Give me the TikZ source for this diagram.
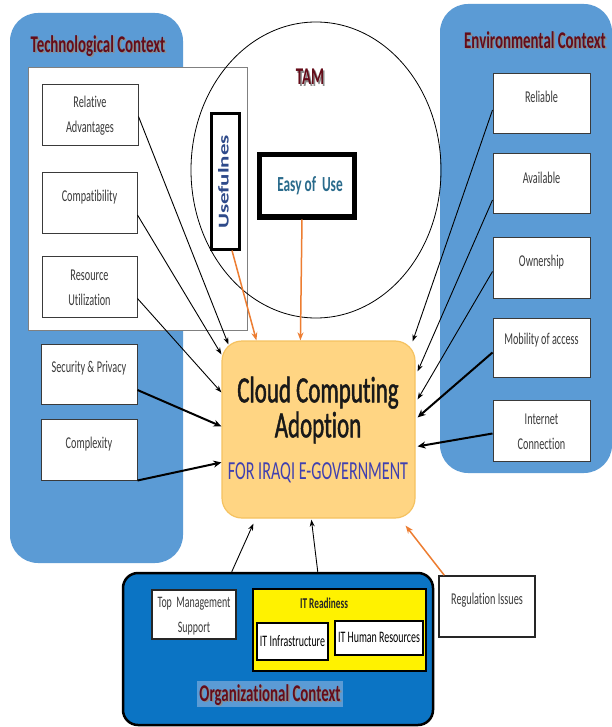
\documentclass[tikz,border=0pt]{standalone}
\usepackage{fontspec}
\setmainfont{Carlito}[FakeStretch=0.62,Ligatures=NoCommon]
\newfontfamily\plainf{Carlito}[Ligatures=NoCommon]
\newfontfamily\heavyf{Carlito}[FakeStretch=0.62,FakeBold=1.2,Ligatures=NoCommon]
\usetikzlibrary{calc,arrows.meta,shapes.geometric}
\definecolor{techblue}{HTML}{5B9BD5}
\definecolor{orgblue}{HTML}{0B74C4}
\definecolor{titlered}{HTML}{650C19}
\definecolor{mainfill}{HTML}{FFD583}
\definecolor{mainedge}{HTML}{F5C260}
\definecolor{arrorange}{HTML}{ED7D31}
\definecolor{boxtext}{HTML}{3A3A3A}
\definecolor{easyc}{HTML}{2A6B8C}
\definecolor{usec}{HTML}{2E4A8A}
\definecolor{govc}{HTML}{4040B0}
\definecolor{hlblue}{HTML}{5B9BD5}
\definecolor{shadowc}{HTML}{8C8C8C}
\begin{document}
\begin{tikzpicture}[x=1pt,y=-1pt,
  panel/.style={fill=techblue, rounded corners=28pt, inner sep=0pt},
  wbox/.style={draw=boxtext, fill=white, line width=1pt, inner sep=0pt},
  txt/.style={font=\fontsize{16.5}{25}\selectfont, text=boxtext, align=center, inner sep=0pt},
  otxt/.style={font=\fontsize{16}{25}\selectfont, text=black, align=center, inner sep=0pt},
  ttl/.style={font=\fontsize{24}{26}\selectfont\bfseries, text=titlered, inner sep=0pt},
  ttlsh/.style={ttl, text=shadowc},
  arr/.style={draw=black, line width=0.9pt, -{Stealth[length=7pt,width=5pt]}},
  tarr/.style={draw=black, line width=2pt, -{Stealth[length=8pt,width=7pt]}},
  oarr/.style={draw=arrorange, line width=1.5pt, -{Stealth[length=8pt,width=6pt]}}]
\useasboundingbox (0,0) rectangle (612,727);
\fill[white] (0,0) rectangle (612,727);

% Technological context panel
\node[panel, minimum width=173pt, minimum height=550pt] (tech) at (96.5,288) {};
\node[draw=gray, fill=white, line width=0.8pt, minimum width=219pt, minimum height=263pt, inner sep=0pt] (techin) at (137.5,198.5) {};
\node[ttlsh] (techttlsh) at (99.5,47.5) {Technological Context};
\node[ttl] (techttl) at (98,46) {Technological Context};

\node[wbox, minimum width=96pt, minimum height=61pt] (rel) at (90,115.5) {};
\node[txt] (reltxt) at (90,116) {Relative\\Advantages};
\node[wbox, minimum width=95pt, minimum height=60pt] (comp) at (89.5,203) {};
\node[txt] (comptxt) at (89.5,197) {Compatibility};
\node[wbox, minimum width=95pt, minimum height=61pt] (res) at (89.5,286.5) {};
\node[txt] (restxt) at (89.5,288) {Resource\\Utilization};
\node[wbox, minimum width=96pt, minimum height=60pt] (sec) at (89,374) {};
\node[txt] (sectxt) at (89,368) {Security \& Privacy};
\node[wbox, minimum width=96pt, minimum height=61pt] (cplx) at (89,449.5) {};
\node[txt] (cplxtxt) at (89,444) {Complexity};

% Environmental context panel
\node[panel, minimum width=172pt, minimum height=469pt] (env) at (526,238.5) {};
\node[ttlsh] (envttlsh) at (536.5,41.5) {Environmental Context};
\node[ttl] (envttl) at (535,40) {Environmental Context};
\node[wbox, minimum width=97pt, minimum height=60pt] (reli) at (541.5,104) {};
\node[txt] (relitxt) at (541.5,97) {Reliable};
\node[wbox, minimum width=97pt, minimum height=60pt] (avail) at (541.5,184) {};
\node[txt] (availtxt) at (541.5,178) {Available};
\node[wbox, minimum width=97pt, minimum height=61pt] (own) at (541.5,267.5) {};
\node[txt] (owntxt) at (541.5,262) {Ownership};
\node[wbox, minimum width=97pt, minimum height=59pt] (mob) at (541.5,347.5) {};
\node[txt] (mobtxt) at (541.5,340) {Mobility of access};
\node[wbox, minimum width=97pt, minimum height=61pt] (inet) at (541.5,430.5) {};
\node[txt] (inettxt) at (541.5,432) {Internet\\Connection};

% TAM
\node[draw=black, line width=0.8pt, ellipse, minimum width=250pt, minimum height=296pt, inner sep=0pt] (tam) at (316,170) {};
\node[ttlsh] (tamttlsh) at (311.5,78.5) {TAM};
\node[ttl] (tamttl) at (310,77) {TAM};
\node[draw=black, fill=white, line width=3pt, minimum width=28pt, minimum height=135pt, inner sep=0pt] (useful) at (225,181.5) {};
\node[inner sep=0pt, rotate=90, yscale=0.65, transform shape, font=\plainf\fontsize{23}{25}\selectfont\bfseries, text=usec] (usefultxt) at (223.5,182) {Usefulnes};
\node[draw=black, fill=white, line width=5pt, minimum width=95pt, minimum height=62pt, inner sep=0pt] (easy) at (307,186) {};
\node[font=\fontsize{21.5}{23}\selectfont\bfseries, text=easyc, inner sep=0pt] (easytxt) at (310,186) {Easy of~ Use};

% Main box
\node[fill=mainfill, draw=mainedge, line width=1.2pt, rounded corners=20pt, minimum width=193pt, minimum height=177pt, inner sep=0pt] (main) at (318.5,429.5) {};
\node[font=\heavyf\fontsize{37}{36}\selectfont, text=black!90, align=center, inner sep=0pt] (maintxt) at (318,410) {Cloud Computing\\[-1pt]Adoption};
\node[font=\fontsize{26}{28}\selectfont, text=govc, inner sep=0pt] (govtxt) at (318,473) {FOR IRAQI E-GOVERNMENT};

% Organizational context
\node[fill=orgblue, draw=black, line width=2.5pt, rounded corners=15pt, minimum width=310pt, minimum height=152pt, inner sep=0pt] (org) at (278,649) {};
\node[draw=black!85, fill=white, line width=2.5pt, minimum width=84pt, minimum height=49pt, inner sep=0pt] (tms) at (194,614.5) {};
\node[otxt, text=boxtext] (tmstxt) at (194,616) {Top~~Management\\Support};
\node[draw=black, fill=yellow, line width=2pt, minimum width=173pt, minimum height=82pt, inner sep=0pt] (itr) at (339.5,630) {};
\node[font=\fontsize{15}{16}\selectfont\bfseries, text=black!85, inner sep=0pt] (itrtxt) at (324,603) {IT Readiness};
\node[draw=black, fill=white, line width=2pt, minimum width=71pt, minimum height=37pt, inner sep=0pt] (itinf) at (292.5,641.5) {};
\node[otxt] (itinftxt) at (292.5,641) {IT Infrastructure};
\node[draw=black, fill=white, line width=2pt, minimum width=88pt, minimum height=34pt, inner sep=0pt] (ithr) at (379,638) {};
\node[otxt] (ithrtxt) at (379,637) {IT Human Resources};
\node[fill=hlblue, minimum width=146pt, minimum height=26pt, inner sep=0pt] (orghl) at (270,694) {};
\node[ttlsh] (orgttlsh) at (271.5,696.5) {Organizational Context};
\node[ttl] (orgttl) at (270,695) {Organizational Context};

% Regulation issues
\node[draw=black!85, fill=white, line width=1.5pt, minimum width=96pt, minimum height=61pt, inner sep=0pt] (reg) at (487,606.5) {};
\node[txt] (regtxt) at (487,600) {Regulation Issues};

% Arrows from technological factors
\draw[arr] ([yshift=-1pt]rel.east) -- ($(main.north west)+(7,4)$);
\draw[arr] ([yshift=-12pt]comp.east) -- ($(main.north west)+(0,14)$);
\draw[arr] ([yshift=-12pt]res.east) -- ($(main.north west)+(0,52)$);
\draw[tarr] ([yshift=-16pt]sec.east) -- ($(main.north west)+(0,86)$);
\draw[tarr] (cplx.south east) -- ($(main.north west)+(0,122)$);

% TAM arrows
\draw[oarr] ([xshift=7pt]useful.south) -- ($(main.north west)+(35,0)$);
\draw[oarr] ([xshift=-5pt]easy.south) -- ($(main.north west)+(79,0)$);

% Environmental arrows
\draw[arr] ([yshift=-6pt]reli.west) -- ($(main.north east)+(-3,1)$);
\draw[arr] ([yshift=-16pt]avail.west) -- ($(main.north east)+(2,31)$);
\draw[arr] ([yshift=-4pt]own.west) -- ($(main.north east)+(2,59)$);
\draw[tarr] ([yshift=-5pt]mob.west) -- ($(main.north east)+(2,77)$);
\draw[tarr] ([yshift=-3pt]inet.west) -- ($(main.north east)+(2,106)$);

% Organizational and regulation arrows
\draw[arr] ($(org.north west)+(110,0)$) -- ($(main.south west)+(32,5)$);
\draw[arr] ($(org.north west)+(196,0)$) -- ($(main.south west)+(90,1)$);
\draw[oarr] ([xshift=6pt]reg.north west) -- ($(main.south east)+(-10,7)$);
\end{tikzpicture}
\end{document}
